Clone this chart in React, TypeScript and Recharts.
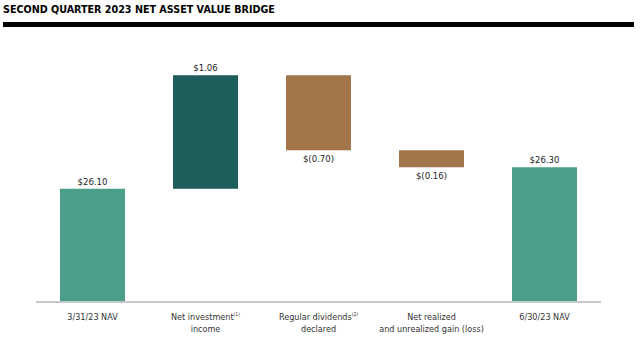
import { Bar, BarChart, Cell, LabelList, XAxis, YAxis } from "recharts";

const categories = [
  "3/31/23 NAV",
  "Net investment income",
  "Regular dividends declared",
  "Net realized and unrealized gain (loss)",
  "6/30/23 NAV",
];
const tickLines = [
  ["3/31/23 NAV"],
  ["Net investment", "income"],
  ["Regular dividends", "declared"],
  ["Net realized", "and unrealized gain (loss)"],
  ["6/30/23 NAV"],
];
const tickNotes = ["", "(1)", "(2)", "", ""];
const values = [26.1, 1.06, -0.7, -0.16, 26.3];
const isTotal = [true, false, false, false, true];
const COLORS = ["#4b9e8a", "#1d5e5a", "#a3754a", "#a3754a", "#4b9e8a"];

const Y_MIN = 25.04;
const Y_MAX = 27.49;

const fmt = (v: number) =>
  v < 0 ? `$(${Math.abs(v).toFixed(2)})` : `$${v.toFixed(2)}`;

// waterfall: each bar is a [low, high] range
let running = 0;
const data = categories.map((name, i) => {
  let range: [number, number];
  if (isTotal[i]) {
    running = values[i];
    range = [Y_MIN, values[i]];
  } else {
    const start = running;
    running = start + values[i];
    range = [Math.min(start, running), Math.max(start, running)];
  }
  return { name, range, value: values[i] };
});

const ValueLabel = (props: any) => {
  const { x, y, width, height, index } = props;
  const v = values[index];
  const cx = x + width / 2;
  const neg = v < 0;
  const ty = neg ? y + height + 12 : y - 4;
  return (
    <text
      x={cx}
      y={ty}
      textAnchor="middle"
      fontSize={9.5}
      fontFamily="'DejaVu Sans Condensed', 'DejaVu Sans', sans-serif"
      fill="#222"
    >
      {fmt(v)}
    </text>
  );
};

const Tick = (props: any) => {
  const { x, y, payload } = props;
  const i = payload.index;
  const lines = tickLines[i];
  return (
    <g transform={`translate(${x},${y})`}>
      {lines.map((l, k) => (
        <text
          key={k}
          x={0}
          y={10 + k * 11.5}
          textAnchor="middle"
          fontSize={9}
          fontFamily="'DejaVu Sans Condensed', 'DejaVu Sans', sans-serif"
          fill="#333"
        >
          {l}
          {k === 0 && tickNotes[i] ? (
            <tspan fontSize={5} dy={-4}>
              {tickNotes[i]}
            </tspan>
          ) : null}
        </text>
      ))}
    </g>
  );
};

export default function App() {
  return (
    <div
      style={{
        position: "absolute",
        left: 0,
        top: 0,
        width: 640,
        height: 341,
        background: "#fff",
      }}
    >
      <div
        style={{
          position: "absolute",
          left: 3,
          top: 4,
          fontFamily: "'DejaVu Sans', sans-serif",
          fontWeight: "bold",
          fontSize: 9.6,
          color: "#000",
          whiteSpace: "nowrap",
        }}
      >
        SECOND QUARTER 2023 NET ASSET VALUE BRIDGE
      </div>
      <div
        style={{
          position: "absolute",
          left: 3,
          top: 22,
          width: 631,
          height: 5,
          background: "#000",
        }}
      />
      <div style={{ position: "absolute", left: 0, top: 0 }}>
        <BarChart
          width={640}
          height={341}
          data={data}
          margin={{ top: 40, right: 39, bottom: 0, left: 36 }}
          barSize={65}
        >
          <YAxis hide domain={[Y_MIN, Y_MAX]} allowDataOverflow />
          <XAxis
            dataKey="name"
            height={39}
            interval={0}
            tickLine={false}
            axisLine={{ stroke: "#c8c8c8", strokeWidth: 2 }}
            tick={<Tick />}
          />
          <Bar dataKey="range" isAnimationActive={false}>
            {data.map((d, i) => (
              <Cell key={d.name} fill={COLORS[i]} />
            ))}
            <LabelList dataKey="value" content={<ValueLabel />} />
          </Bar>
        </BarChart>
      </div>
    </div>
  );
}
